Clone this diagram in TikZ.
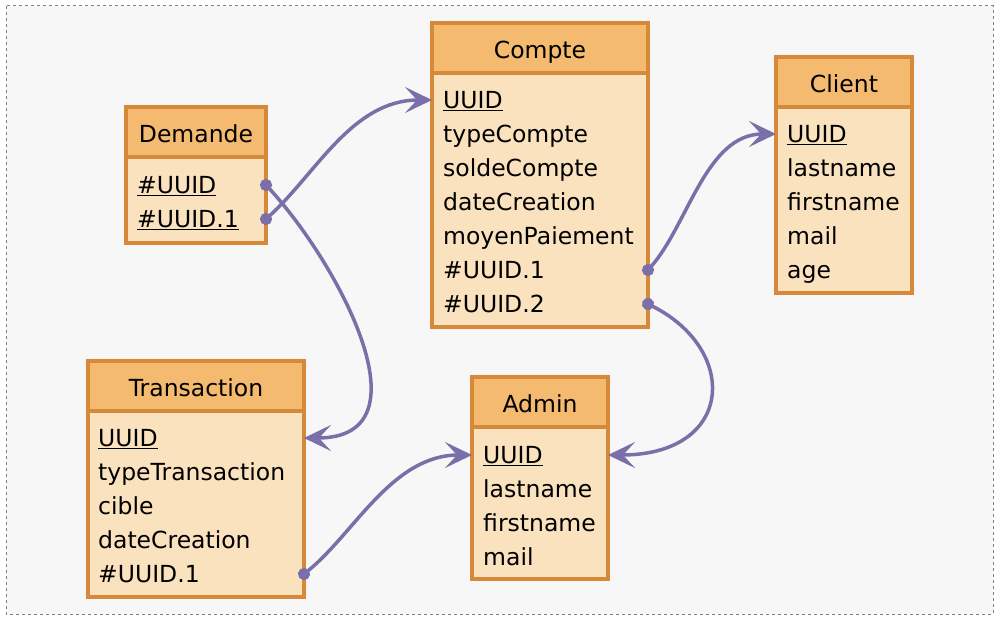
\documentclass[tikz,border=0pt]{standalone}
\usepackage{fontspec}
\setmainfont{DejaVu Sans}
\usetikzlibrary{arrows.meta,positioning,calc}
\definecolor{erhead}{RGB}{243,186,112}
\definecolor{erbody}{RGB}{250,226,191}
\definecolor{erline}{RGB}{214,137,57}
\definecolor{erlink}{RGB}{123,111,170}
\definecolor{erback}{RGB}{247,247,247}

\begin{document}
\begin{tikzpicture}[x=1pt,y=-1pt,every node/.style={font=\fontsize{23.5}{28}\selectfont},
    hd/.style={draw=erline,fill=erhead,line width=3.5pt,outer sep=0pt,minimum height=50pt,inner sep=0pt,text height=21pt,text depth=0pt},
    bd/.style={draw=erline,fill=erbody,line width=3.5pt,outer sep=0pt,inner sep=0pt},
    row/.style={anchor=west,inner sep=0pt,text height=17pt,text depth=0pt},
    link/.style={draw=erlink,line width=3.5pt,arrows={Circle[length=12pt]-Stealth[length=27pt,width=26pt,inset=12pt]},shorten <=-6pt}]
  % canvas
  \fill[white] (0,0) rectangle (998,620);
  \draw[gray,line width=1pt,dashed,fill=erback] (6,6) rectangle (993,614);

  % Compte
  \node[hd,minimum width=216pt] (compte) at (540,48) {Compte};
  \node[bd,minimum width=216pt,minimum height=254pt,below=0pt of compte] (compte-b) {};
  \foreach \t [count=\i] in {\underline{UUID},typeCompte,soldeCompte,dateCreation,moyenPaiement,\#UUID.1,\#UUID.2}
    \node[row] (compte-\i) at (443,{66+34*\i}) {\t};

  % Client
  \node[hd,minimum width=136pt] (client) at (844,82) {Client};
  \node[bd,minimum width=136pt,minimum height=186pt,below=0pt of client] (client-b) {};
  \foreach \t [count=\i] in {\underline{UUID},lastname,firstname,mail,age}
    \node[row] (client-\i) at (787,{100+34*\i}) {\t};

  % Demande
  \node[hd,minimum width=140pt] (demande) at (196,132) {Demande};
  \node[bd,minimum width=140pt,minimum height=86pt,below=0pt of demande] (demande-b) {};
  \foreach \t [count=\i] in {\underline{\#UUID},\underline{\#UUID.1}}
    \node[row] (demande-\i) at (137,{151+34*\i}) {\t};

  % Transaction
  \node[hd,minimum width=216pt] (transaction) at (196,386) {Transaction};
  \node[bd,minimum width=216pt,minimum height=186pt,below=0pt of transaction] (transaction-b) {};
  \foreach \t [count=\i] in {\underline{UUID},typeTransaction,cible,dateCreation,\#UUID.1}
    \node[row] (transaction-\i) at (98,{404+34*\i}) {\t};

  % Admin
  \node[hd,minimum width=136pt] (admin) at (540,402) {Admin};
  \node[bd,minimum width=136pt,minimum height=152pt,below=0pt of admin] (admin-b) {};
  \foreach \t [count=\i] in {\underline{UUID},lastname,firstname,mail}
    \node[row] (admin-\i) at (483,{421+34*\i}) {\t};

  % connector ends on the box edges
  \coordinate (d1) at (demande-b.east |- demande-1);
  \coordinate (d2) at (demande-b.east |- demande-2);
  \coordinate (c1) at (compte-b.west |- compte-1);
  \coordinate (c6) at (compte-b.east |- compte-6);
  \coordinate (c7) at (compte-b.east |- compte-7);
  \coordinate (k1) at (client-b.west |- client-1);
  \coordinate (t1) at (transaction-b.east |- transaction-1);
  \coordinate (t5) at (transaction-b.east |- transaction-5);
  \coordinate (a1w) at (admin-b.west |- admin-1);
  \coordinate (a1e) at (admin-b.east |- admin-1);

  % links
  \draw[link] (d2) .. controls +(50,-45) and +(-80,0) .. (c1);
  \draw[link] (d1) .. controls +(72,78) and +(128,0) .. (t1);
  \draw[link] (c6) .. controls +(40,-45) and +(-70,0) .. (k1);
  \draw[link] (c7) .. controls +(92,46) and +(126,0) .. (a1e);
  \draw[link] (t5) .. controls +(50,-40) and +(-80,0) .. (a1w);
\end{tikzpicture}
\end{document}
